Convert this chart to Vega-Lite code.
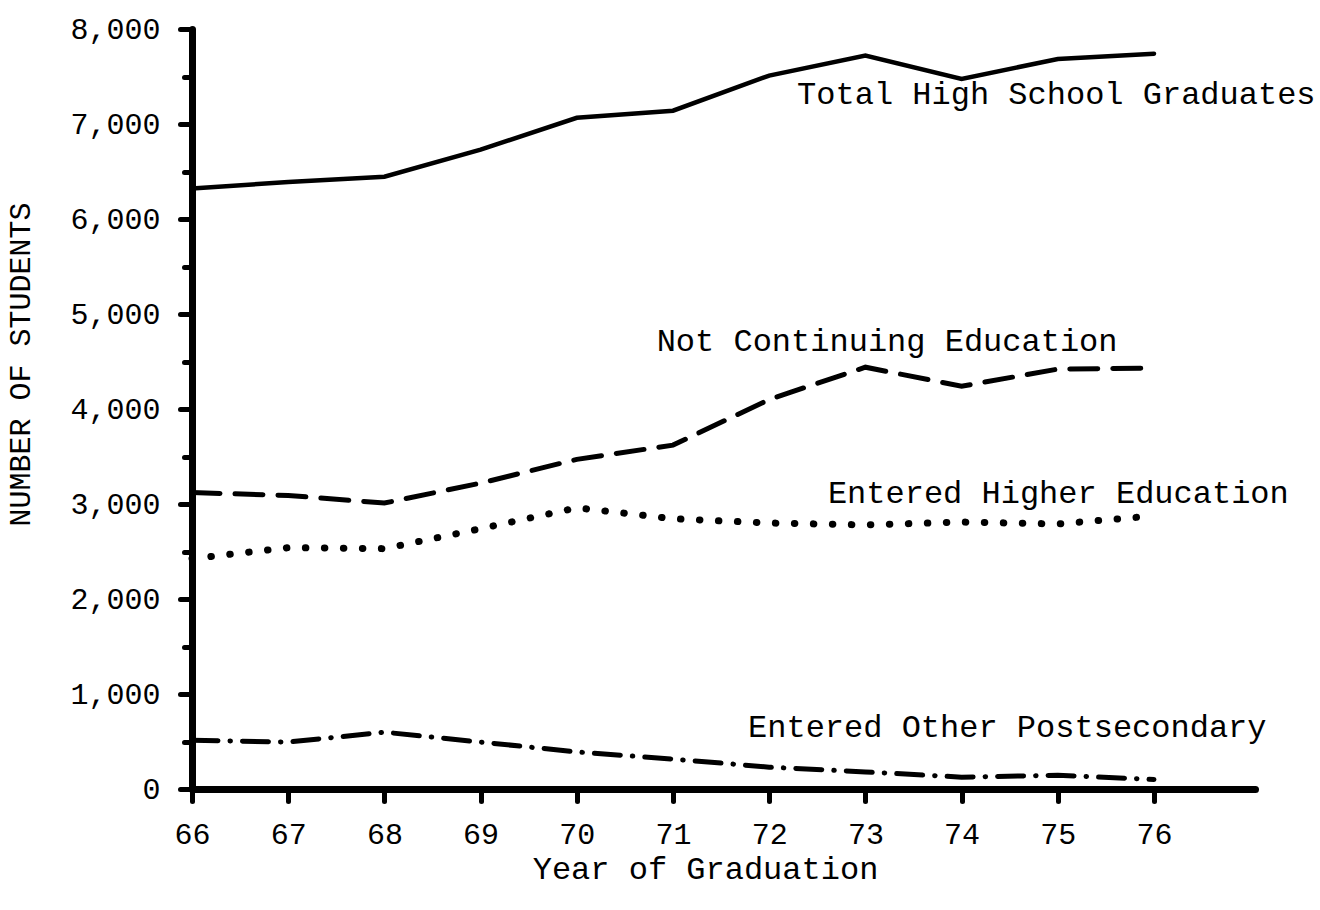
{
  "$schema": "https://vega.github.io/schema/vega-lite/v6.json",
  "width": 1063,
  "height": 760,
  "autosize": "none",
  "padding": {"left": 192, "top": 29, "right": 65, "bottom": 121},
  "background": "white",
  "config": {"view": {"stroke": null}, "font": "Liberation Mono"},
  "datasets": {
    "series": [
      {"year": 66, "series": "Total", "students": 6320},
      {"year": 67, "series": "Total", "students": 6390},
      {"year": 68, "series": "Total", "students": 6445},
      {"year": 69, "series": "Total", "students": 6730},
      {"year": 70, "series": "Total", "students": 7065},
      {"year": 71, "series": "Total", "students": 7140},
      {"year": 72, "series": "Total", "students": 7510},
      {"year": 73, "series": "Total", "students": 7720},
      {"year": 74, "series": "Total", "students": 7475},
      {"year": 75, "series": "Total", "students": 7685},
      {"year": 76, "series": "Total", "students": 7740},
      {"year": 66, "series": "NotContinuing", "students": 3120},
      {"year": 67, "series": "NotContinuing", "students": 3090},
      {"year": 68, "series": "NotContinuing", "students": 3010},
      {"year": 69, "series": "NotContinuing", "students": 3220},
      {"year": 70, "series": "NotContinuing", "students": 3470},
      {"year": 71, "series": "NotContinuing", "students": 3620},
      {"year": 72, "series": "NotContinuing", "students": 4100},
      {"year": 73, "series": "NotContinuing", "students": 4440},
      {"year": 74, "series": "NotContinuing", "students": 4240},
      {"year": 75, "series": "NotContinuing", "students": 4420},
      {"year": 76, "series": "NotContinuing", "students": 4430},
      {"year": 66, "series": "Higher", "students": 2425},
      {"year": 67, "series": "Higher", "students": 2540},
      {"year": 68, "series": "Higher", "students": 2530},
      {"year": 69, "series": "Higher", "students": 2740},
      {"year": 70, "series": "Higher", "students": 2960},
      {"year": 71, "series": "Higher", "students": 2845},
      {"year": 72, "series": "Higher", "students": 2800},
      {"year": 73, "series": "Higher", "students": 2780},
      {"year": 74, "series": "Higher", "students": 2810},
      {"year": 75, "series": "Higher", "students": 2790},
      {"year": 76, "series": "Higher", "students": 2875},
      {"year": 66, "series": "Other", "students": 514},
      {"year": 67, "series": "Other", "students": 494},
      {"year": 68, "series": "Other", "students": 598},
      {"year": 69, "series": "Other", "students": 494},
      {"year": 70, "series": "Other", "students": 390},
      {"year": 71, "series": "Other", "students": 315},
      {"year": 72, "series": "Other", "students": 230},
      {"year": 73, "series": "Other", "students": 180},
      {"year": 74, "series": "Other", "students": 125},
      {"year": 75, "series": "Other", "students": 145},
      {"year": 76, "series": "Other", "students": 100}
    ],
    "labels": [
      {"year": 72.29, "students": 7210, "label": "Total High School Graduates"},
      {"year": 70.83, "students": 4610, "label": "Not Continuing Education"},
      {"year": 72.61, "students": 3010, "label": "Entered Higher Education"},
      {"year": 71.78, "students": 547, "label": "Entered Other Postsecondary"}
    ]
  },
  "encoding": {
    "x": {
      "field": "year",
      "type": "quantitative",
      "scale": {"domain": [66, 77.05], "nice": false, "zero": false},
      "axis": {
        "values": [66, 67, 68, 69, 70, 71, 72, 73, 74, 75, 76],
        "format": "d",
        "grid": false,
        "domainColor": "black",
        "domainWidth": 7,
        "domainCap": "round",
        "tickColor": "black",
        "tickWidth": 5,
        "tickSize": 12,
        "tickCap": "round",
        "labelFont": "Liberation Mono",
        "labelFontSize": 30,
        "labelColor": "black",
        "labelPadding": 18,
        "labelFlush": false,
        "labelOverlap": false,
        "title": "Year of Graduation",
        "titleFont": "Liberation Mono",
        "titleFontSize": 32,
        "titleFontWeight": "normal",
        "titleColor": "black",
        "titleX": 513,
        "titlePadding": 4
      }
    },
    "y": {
      "field": "students",
      "type": "quantitative",
      "scale": {"domain": [0, 8000], "nice": false},
      "axis": {
        "values": [0, 500, 1000, 1500, 2000, 2500, 3000, 3500, 4000, 4500, 5000, 5500, 6000, 6500, 7000, 7500, 8000],
        "labelExpr": "datum.value % 1000 === 0 ? format(datum.value, ',') : ''",
        "grid": false,
        "domainColor": "black",
        "domainWidth": 7,
        "domainCap": "round",
        "tickColor": "black",
        "tickWidth": 5,
        "tickCap": "round",
        "tickSize": {"condition": {"test": "datum.value % 1000 === 0", "value": 12}, "value": 8},
        "labelFont": "Liberation Mono",
        "labelFontSize": 30,
        "labelColor": "black",
        "labelPadding": 20,
        "labelFlush": false,
        "labelOverlap": false,
        "title": "NUMBER OF STUDENTS",
        "titleFont": "Liberation Mono",
        "titleFontSize": 30,
        "titleFontWeight": "normal",
        "titleColor": "black",
        "titleY": 335,
        "titlePadding": 34
      }
    }
  },
  "layer": [
    {
      "data": {"name": "series"},
      "transform": [{"filter": "datum.series === 'Total'"}],
      "mark": {"type": "line", "color": "black", "strokeWidth": 4.5, "strokeCap": "round"}
    },
    {
      "data": {"name": "series"},
      "transform": [{"filter": "datum.series === 'NotContinuing'"}],
      "mark": {"type": "line", "color": "black", "strokeWidth": 5, "strokeCap": "round", "strokeDash": [28, 15]}
    },
    {
      "data": {"name": "series"},
      "transform": [{"filter": "datum.series === 'Higher'"}],
      "mark": {"type": "line", "color": "black", "strokeWidth": 7, "strokeCap": "round", "strokeDash": [0.5, 18.5]}
    },
    {
      "data": {"name": "series"},
      "transform": [{"filter": "datum.series === 'Other'"}],
      "mark": {"type": "line", "color": "black", "strokeWidth": 5, "strokeCap": "round", "strokeDash": [26, 12, 0.5, 12]}
    },
    {
      "data": {"name": "labels"},
      "mark": {"type": "text", "font": "Liberation Mono", "fontSize": 32, "align": "left", "baseline": "alphabetic", "color": "black"},
      "encoding": {"text": {"field": "label"}}
    }
  ]
}
